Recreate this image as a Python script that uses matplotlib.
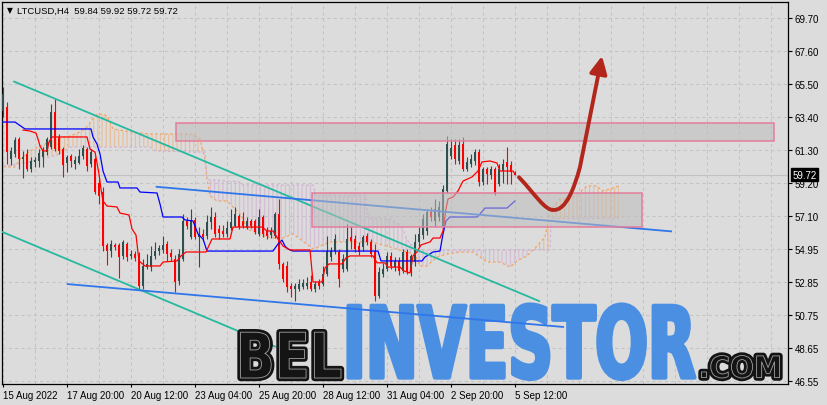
import numpy as np
import matplotlib
matplotlib.use("Agg")
import matplotlib.pyplot as plt
from matplotlib.patches import Rectangle, PathPatch, FancyArrowPatch
from matplotlib.path import Path
from matplotlib.textpath import TextPath
from matplotlib.font_manager import FontProperties
from matplotlib.transforms import Affine2D, IdentityTransform, blended_transform_factory
import matplotlib.patheffects as pe

plt.rcParams['hatch.linewidth'] = 0.9

# ------------------------------------------------------------------ data
symbol = "LTCUSD,H4"
last_ohlc = [59.84, 59.92, 59.72, 59.72]
last_price = 59.72

opens = [63.77, 64.03, 60.72, 61.04, 61.99, 60.72, 61.04, 60.08, 60.53, 60.59,
         60.84, 61.16, 61.48, 63.71, 62.12, 61.35, 60.46, 60.91, 60.40, 60.46,
         60.91, 61.35, 60.40, 60.72, 59.19, 58.61, 55.24, 54.85, 55.24, 55.24,
         54.54, 55.30, 54.54, 54.66, 54.54, 52.62, 53.83, 53.83, 54.54, 54.85,
         54.92, 55.30, 54.73, 54.34, 52.94, 54.34, 56.77, 55.75, 56.83, 55.75,
         55.94, 55.81, 56.70, 57.02, 56.26, 56.13, 55.94, 56.32, 56.45, 57.08,
         56.77, 56.38, 56.77, 56.77, 55.94, 57.02, 56.13, 55.87, 55.81, 57.21,
         54.03, 53.90, 52.62, 52.43, 52.43, 52.56, 52.62, 52.88, 52.43, 52.88,
         52.75, 53.39, 54.47, 54.85, 54.79, 53.71, 53.71, 55.75, 55.62, 55.17,
         55.11, 55.81, 55.43, 54.85, 51.99, 53.39, 53.71, 54.54, 53.83, 54.22,
         53.58, 54.79, 53.52, 54.15, 55.43, 55.87, 56.13, 57.34, 56.77, 57.02,
         56.45, 58.68, 60.91, 61.61, 60.59, 61.67, 60.08, 60.40, 60.59, 61.16,
         59.25, 60.08, 59.70, 60.08, 59.12, 59.95, 60.53, 60.33, 59.84]
highs = [65.30, 64.35, 61.48, 62.12, 62.12, 61.23, 61.35, 60.84, 60.84, 61.35,
         61.48, 62.12, 64.22, 64.54, 62.31, 61.48, 60.97, 61.04, 60.91, 61.35,
         61.61, 61.48, 61.35, 60.84, 59.44, 58.93, 55.36, 55.55, 55.36, 55.36,
         55.55, 55.43, 54.92, 54.85, 54.79, 54.34, 54.66, 55.17, 55.43, 55.24,
         55.81, 55.49, 54.98, 54.60, 54.98, 57.21, 57.02, 57.53, 57.02, 56.38,
         56.26, 57.15, 57.66, 57.34, 56.51, 56.51, 56.77, 57.53, 57.66, 57.21,
         57.34, 57.02, 56.89, 56.89, 57.53, 57.15, 56.38, 56.38, 57.34, 58.17,
         54.15, 54.22, 52.82, 52.82, 53.07, 53.07, 53.20, 53.32, 52.94, 53.07,
         53.90, 55.81, 55.11, 55.94, 54.98, 54.66, 56.57, 56.45, 55.87, 55.43,
         55.87, 56.00, 55.62, 55.30, 53.83, 54.09, 54.79, 54.79, 54.47, 54.47,
         54.98, 54.98, 54.66, 55.94, 56.38, 57.21, 57.53, 57.66, 58.17, 58.04,
         59.06, 62.18, 61.99, 61.99, 61.99, 62.12, 60.84, 61.04, 61.35, 61.35,
         60.21, 60.21, 60.27, 60.21, 60.40, 60.72, 61.48, 60.59, 59.92]
lows = [63.39, 60.40, 60.33, 60.84, 60.08, 59.51, 59.95, 59.89, 60.21, 60.21,
        60.21, 60.97, 61.35, 61.23, 61.04, 59.57, 59.89, 60.21, 60.08, 60.40,
        60.72, 59.95, 60.21, 58.49, 57.85, 54.85, 53.96, 54.47, 54.92, 53.13,
        54.34, 54.22, 54.34, 54.22, 52.43, 52.43, 53.71, 53.58, 54.34, 54.60,
        54.73, 54.22, 54.22, 52.24, 52.69, 54.22, 56.26, 55.62, 55.62, 53.83,
        55.49, 55.62, 56.26, 55.75, 55.62, 55.75, 55.75, 56.19, 56.38, 56.26,
        56.32, 56.26, 56.32, 55.94, 55.81, 55.75, 55.62, 55.68, 55.68, 53.71,
        52.88, 52.24, 51.92, 51.67, 52.31, 52.43, 52.43, 52.31, 52.24, 52.43,
        52.62, 53.26, 54.22, 54.66, 52.56, 53.52, 53.58, 54.98, 54.79, 54.60,
        54.85, 55.24, 54.47, 51.67, 51.86, 53.20, 53.58, 53.71, 53.58, 53.32,
        53.45, 53.39, 53.26, 53.90, 55.11, 55.62, 55.87, 56.77, 56.38, 56.77,
        56.26, 58.55, 60.72, 60.40, 60.40, 59.95, 59.95, 60.21, 60.33, 59.00,
        59.06, 59.12, 59.44, 58.42, 59.00, 59.19, 59.12, 59.12, 59.72]
closes = [64.86, 61.16, 61.23, 61.93, 60.72, 60.84, 60.08, 60.59, 60.65, 61.10,
          61.29, 61.99, 63.71, 61.35, 61.23, 60.33, 60.84, 60.59, 60.65, 60.91,
          61.42, 60.27, 61.16, 58.61, 58.36, 55.17, 54.85, 55.30, 55.11, 54.47,
          55.43, 54.47, 54.66, 54.41, 52.62, 53.90, 54.03, 54.54, 54.85, 55.04,
          55.24, 54.66, 54.47, 52.88, 54.66, 56.77, 56.45, 56.83, 55.75, 55.94,
          55.75, 56.70, 57.02, 55.94, 56.00, 55.94, 56.32, 56.70, 57.21, 56.38,
          56.45, 56.77, 56.45, 56.06, 57.02, 55.94, 55.81, 56.13, 57.21, 54.03,
          53.07, 52.56, 52.43, 52.62, 52.75, 52.82, 52.82, 52.43, 52.75, 52.62,
          53.39, 54.85, 54.85, 55.62, 53.07, 54.34, 55.62, 55.49, 54.98, 54.79,
          55.75, 55.43, 54.66, 51.99, 53.52, 53.71, 54.54, 53.90, 54.22, 53.58,
          54.79, 53.58, 54.54, 55.43, 55.94, 56.89, 57.34, 57.02, 57.53, 57.66,
          58.80, 61.67, 61.42, 60.72, 61.61, 60.08, 60.53, 60.72, 61.16, 59.25,
          60.08, 59.76, 60.08, 58.49, 60.08, 60.40, 60.21, 59.89, 59.72]

x_tick_bars = [0, 16, 32, 48, 64, 80, 96, 112, 128]
x_tick_labels = ["15 Aug 2022", "17 Aug 20:00", "20 Aug 12:00", "23 Aug 04:00",
                 "25 Aug 20:00", "28 Aug 12:00", "31 Aug 04:00", "2 Sep 20:00",
                 "5 Sep 12:00"]
y_ticks = [69.70, 67.60, 65.50, 63.40, 61.30, 59.20, 57.10, 54.95, 52.85,
           50.75, 48.65, 46.55]

# Ichimoku lines (bar index, price)
tenkan_x = [5, 6.75, 8.25, 8.75, 9.25, 10, 11, 11.5, 12.25, 21,
            21.75, 23, 24, 24.5, 25, 26, 28.5, 29.25, 31.5, 32.25,
            33.25, 34, 35.5, 39.25, 40, 43.5, 44.5, 45.75, 50.75, 52.25,
            56.75, 57.5, 64.75, 66, 67.5, 68.75, 70, 71.75, 76.75, 77.5,
            79.75, 80.5, 81.5, 84.75, 85.75, 86.75, 92.5, 93.5, 95.5, 96.25,
            99.25, 100.25, 101.75, 102.5, 103.5, 104.5, 106.75, 107.5, 109.25, 110,
            110.75, 111.25, 112.5, 113.75, 115, 117.25, 118.75, 119.75, 121.75, 123.5,
            124.25, 127.5, 128]
tenkan_y = [62.56, 62.50, 62.37, 61.99, 61.54, 61.23, 61.23, 61.80, 62.12, 62.12,
            61.35, 61.16, 59.76, 58.80, 58.04, 57.72, 57.66, 57.27, 57.15, 56.26,
            55.87, 54.22, 53.90, 53.90, 54.15, 54.22, 54.54, 54.79, 54.79, 55.62,
            55.62, 56.38, 56.38, 56.13, 56.13, 55.62, 55.17, 54.92, 54.92, 52.88,
            52.88, 53.77, 54.03, 54.03, 54.41, 54.54, 54.54, 54.10, 54.10, 53.83,
            53.83, 53.58, 53.45, 54.54, 54.79, 55.24, 55.43, 55.68, 55.68, 56.13,
            57.53, 58.17, 58.29, 58.68, 59.31, 59.57, 59.95, 60.53, 60.59, 60.46,
            59.95, 59.95, 59.76]
kijun_x = [-0.25, 3, 5.5, 22, 22.5, 23.5, 24.25, 25, 26, 28.75,
           29.25, 33.5, 34.25, 38.5, 39.25, 40, 44.75, 45.5, 47.5, 48.75,
           50, 51, 67.5, 68.75, 69.75, 70.5, 71.25, 72.5, 93.75, 94.5,
           104.75, 105.5, 107.5, 109.25, 110, 110.75, 111.75, 118.5, 119.25, 120.5,
           126, 128]
kijun_y = [63.07, 63.07, 62.63, 62.63, 62.12, 61.67, 61.04, 59.95, 59.25, 59.25,
           58.87, 58.87, 58.61, 58.55, 57.85, 57.02, 57.02, 56.83, 56.77, 55.94,
           55.62, 54.85, 54.85, 55.30, 55.55, 55.17, 54.98, 54.85, 54.85, 54.22,
           54.22, 54.47, 54.79, 54.85, 55.94, 56.77, 57.02, 57.02, 57.21, 57.59,
           57.59, 58.04]
cloud_x = [0, 3, 4.25, 6.75, 9.25, 11.75, 14.25, 16.75, 19.25, 21.25,
           22.25, 23.5, 24.75, 26, 27.5, 32, 36.75, 38, 47.5, 49.25,
           50.5, 51, 51.75, 53.5, 56, 57.5, 59.25, 60, 61, 66,
           69.25, 72.5, 74.25, 77.5, 78.25, 79.25, 81.75, 90.75, 91, 92,
           96.75, 98, 99, 100, 101, 102, 103, 104.25, 106, 108.5,
           111, 114.25, 117.5, 121, 124.25, 126.75, 128.5, 131, 133.5, 135.5,
           136.75, 137, 139.25, 141.75, 144.25, 146, 148.5, 149.75, 151.75, 154]
span_a = [60.21, 60.21, 60.72, 61.23, 61.54, 61.80, 62.05, 62.18, 62.44, 62.82,
          63.20, 63.58, 63.58, 63.46, 62.63, 62.44, 62.31, 62.31, 62.31, 61.99,
          60.72, 59.44, 58.36, 58.04, 58.04, 57.66, 57.21, 56.89, 56.26, 55.75,
          55.62, 55.94, 55.62, 54.98, 55.04, 55.17, 55.43, 55.43, 55.43, 55.43,
          55.11, 55.00, 54.92, 54.85, 54.79, 54.72, 54.66, 53.90, 53.90, 54.47,
          54.66, 54.79, 54.79, 54.15, 54.15, 53.83, 54.22, 54.54, 55.17, 55.75,
          57.34, 57.50, 58.17, 58.17, 58.61, 59.00, 59.00, 58.68, 58.81, 59.00]
span_b = [60.27, 60.37, 60.40, 60.53, 60.72, 60.84, 61.04, 61.48, 61.48, 61.48,
          61.48, 61.48, 61.48, 61.48, 61.48, 61.48, 61.48, 61.23, 61.16, 61.16,
          61.16, 59.44, 59.38, 59.38, 59.31, 59.31, 59.25, 59.06, 59.06, 59.06,
          59.06, 59.06, 59.06, 59.06, 58.39, 58.39, 58.39, 58.39, 57.28, 56.93,
          56.93, 56.70, 56.57, 56.26, 55.56, 55.30, 54.92, 54.92, 54.92, 54.92,
          54.92, 54.92, 54.92, 54.92, 54.92, 54.92, 54.92, 54.92, 54.92, 54.92,
          54.92, 56.93, 56.93, 56.93, 56.93, 56.93, 56.93, 56.93, 56.93, 56.93]

# drawn objects (bar index, price)
teal_upper = ([2.58, 134.25], [65.67, 51.64])
teal_lower = ([-0.75, 68.25], [56.13, 48.74])
blue_upper = ([38.18, 167.25], [58.95, 56.10])
blue_lower = ([15.93, 140.25], [52.75, 50.01])
rect_upper = [43.2, 192.8, 61.88, 62.99]
rect_lower = [77.2, 159.8, 56.36, 58.53]
arrow_pts = [(129.0, 59.55), (133.0, 58.49), (135.5, 57.40), (137.75, 57.47),
             (140.75, 57.47), (142.75, 58.80), (144.25, 60.21), (149.75, 67.28)]

# ------------------------------------------------------------------ figure
W, H = 828, 406
BG = "#dcdcdc"
fig = plt.figure(figsize=(W / 100, H / 100), dpi=100, facecolor=BG)
ax = fig.add_axes([2.3 / W, 21 / H, 785.7 / W, 382.3 / H], facecolor=BG)

# grid
for gx in range(0, 197, 8):
    ax.axvline(gx, color="#c3c3c3", lw=0.75, ls=(0, (3, 3)), zorder=0.5)
for gy in y_ticks:
    ax.axhline(gy, color="#c3c3c3", lw=0.75, ls=(0, (3, 3)), zorder=0.5)
ax.axhline(last_price, color="#c2c2c2", lw=0.8, zorder=0.6)

# cloud
cx = np.array(cloud_x)
sa = np.array(span_a)
sb = np.array(span_b)
ax.fill_between(cx, sa, sb, where=sa >= sb, interpolate=True, facecolor="none",
                edgecolor="#f4a460", hatch="||||", linewidth=0, alpha=0.5, zorder=1)
ax.fill_between(cx, sa, sb, where=sa < sb, interpolate=True, facecolor="none",
                edgecolor="#d2b4d2", hatch="||||", linewidth=0, alpha=0.75, zorder=1)
ax.plot(cx, sa, color="#f4a460", lw=0.9, ls=(0, (2, 2)), zorder=1.2)
ax.plot(cx, sb, color="#d2b4d2", lw=0.9, ls=(0, (2, 2)), zorder=1.2)

# candles
o = np.array(opens); h = np.array(highs); l = np.array(lows); c = np.array(closes)
xi = np.arange(len(o))
up = c >= o
bull, bear = "#2f4f4f", "#ff0000"
ax.vlines(xi[up], l[up], h[up], color=bull, lw=0.8, zorder=3)
ax.vlines(xi[~up], l[~up], h[~up], color=bear, lw=0.8, zorder=3)
bot = np.minimum(o, c)
hgt = np.maximum(np.abs(c - o), 0.07)
ax.bar(xi[up], hgt[up], bottom=bot[up], width=0.74, color=bull, lw=0, zorder=3.1)
ax.bar(xi[~up], hgt[~up], bottom=bot[~up], width=0.74, color=bear, lw=0, zorder=3.1)

# ichimoku lines
ax.plot(kijun_x, kijun_y, color="#0000ff", lw=0.9, zorder=4)
ax.plot(tenkan_x, tenkan_y, color="#ff0000", lw=0.9, zorder=4.1)

# trend lines
ax.plot(*teal_upper, color="#27b9a0", lw=1.3, zorder=4.5, solid_capstyle="butt")
ax.plot(*teal_lower, color="#27b9a0", lw=1.3, zorder=4.5, solid_capstyle="butt")
ax.plot(*blue_upper, color="#2f76ea", lw=1.3, zorder=4.6, solid_capstyle="butt")
ax.plot(*blue_lower, color="#2f76ea", lw=1.3, zorder=7.5, solid_capstyle="butt")

# rectangles
for (x0, x1, y0, y1) in (rect_upper, rect_lower):
    ax.add_patch(Rectangle((x0, y0), x1 - x0, y1 - y0, facecolor="#bcbcbc",
                           edgecolor="none", alpha=0.55, zorder=6))
    ax.add_patch(Rectangle((x0, y0), x1 - x0, y1 - y0, facecolor="none",
                           edgecolor="#e47d9b", lw=1.1, zorder=6.1))

# arrow
codes = [Path.MOVETO, Path.CURVE4, Path.CURVE4, Path.CURVE4,
         Path.CURVE4, Path.CURVE4, Path.CURVE4, Path.LINETO]
arr = FancyArrowPatch(path=Path(arrow_pts, codes),
                      arrowstyle="-|>,head_length=0.52,head_width=0.26",
                      mutation_scale=20, color="#b3261b", lw=2.8, zorder=8)
ax.add_patch(arr)

ax.set_xlim(-0.175, 196.25)
ax.set_ylim(46.379, 70.739)

# watermark
def logo_word(text, box, fp, face, edge="none", lw=0.0, effects=None, z=7):
    tp = TextPath((0, 0), text, size=100, prop=fp)
    ext = tp.get_extents()
    x0, y0, x1, y1 = box
    tr = (Affine2D().translate(-ext.x0, -ext.y0)
          .scale((x1 - x0) / ext.width, (y1 - y0) / ext.height)
          .translate(x0, H - y1))
    patch = PathPatch(tr.transform_path(tp), facecolor=face, edgecolor=edge, lw=lw,
                      transform=IdentityTransform(), clip_on=False, zorder=z,
                      joinstyle="round")
    if effects:
        patch.set_path_effects(effects)
    ax.add_patch(patch)

fp_logo = FontProperties(family=["Liberation Sans Narrow", "DejaVu Sans"], weight="bold")
outline_fx = [pe.Stroke(linewidth=4.6, foreground="#141414", joinstyle="round"),
              pe.Normal()]
logo_word("BEL", (240.5, 333.2, 341, 379), fp_logo, "#141414", edge="#a0a0a0",
          lw=0.6, effects=outline_fx)
blue_fx = [pe.Stroke(linewidth=3.0, foreground="#4a8fe1", joinstyle="round"),
           pe.Normal()]
logo_word("INVESTOR", (348.5, 305.5, 694.5, 380), fp_logo, "#4a8fe1", effects=blue_fx)
logo_word(".COM", (701.5, 356.5, 779.5, 379), fp_logo, "#141414", edge="#a0a0a0",
          lw=0.6, effects=outline_fx)

# axes styling
for s in ax.spines.values():
    s.set_color("black")
    s.set_linewidth(0.9)
ax.set_xticks(x_tick_bars)
ax.set_xticklabels(x_tick_labels, fontsize=7, fontfamily="Liberation Sans", ha="left")
ax.tick_params(axis="x", direction="out", length=2.5, width=0.8, pad=1.8, colors="black")
ax.yaxis.tick_right()
ax.set_yticks(y_ticks)
ax.set_yticklabels([f"{v:.2f}" for v in y_ticks], fontsize=7, fontfamily="Liberation Sans")
ax.tick_params(axis="y", direction="out", length=3, width=0.8, pad=1.8, colors="black")

# price label
tr_lbl = blended_transform_factory(ax.transAxes, ax.transData)
ax.text(1 + 4.5 / 785.7, last_price, f"{last_price:.2f}", transform=tr_lbl,
        color="white", fontsize=7, family="Liberation Sans", va="center", ha="left",
        bbox=dict(boxstyle="square,pad=0.18", fc="black", ec="black"),
        zorder=10, clip_on=False)

# title
fig.text(6.5 / W, 1 - 13.2 / H, "\u25bc", fontsize=5.5, family="DejaVu Sans",
         va="baseline", ha="left", color="black")
fig.text(17.5 / W, 1 - 14 / H,
         f"{symbol}  " + " ".join(f"{v:.2f}" for v in last_ohlc),
         fontsize=6.8, family="Liberation Sans", va="baseline", ha="left", color="black")

fig.savefig("out.png", dpi=100, facecolor=BG)
